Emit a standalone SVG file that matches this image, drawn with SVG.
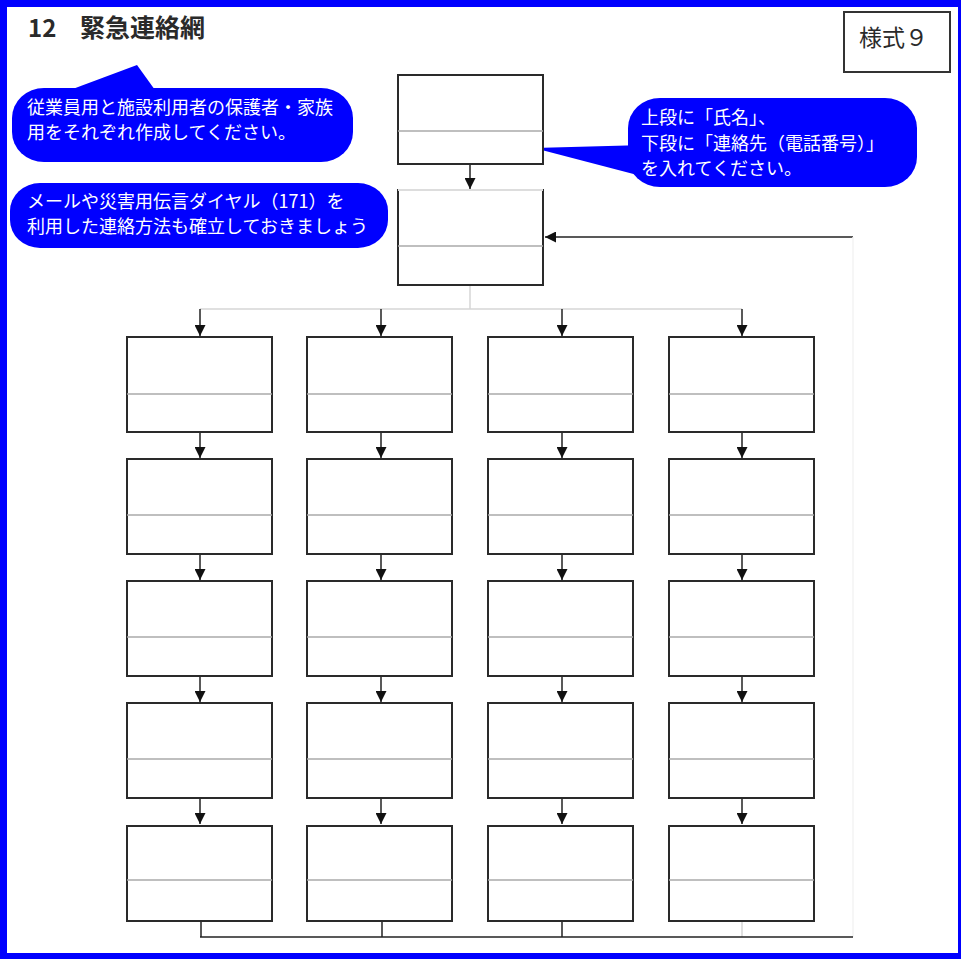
<svg xmlns="http://www.w3.org/2000/svg" width="961" height="959" viewBox="0 0 961 959">
<style>
.box{fill:#fff;stroke:#2a2a2a;stroke-width:2}
.div{stroke:#aaa;stroke-width:1.5}
.ln{stroke:#222;stroke-width:1.5;fill:none}
.lt{stroke:#d6d6d6;stroke-width:1.5;fill:none}
.co{fill:#0000ff}
.ct{fill:#fff;font-family:"Noto Sans CJK JP","Noto Sans CJK SC",sans-serif;font-size:18px}
.tt{fill:#2a2a2a;font-family:"Noto Sans CJK JP","Noto Sans CJK SC",sans-serif}
</style>
<defs>
<marker id="ah" viewBox="0 0 10 10" refX="10" refY="5" markerWidth="11" markerHeight="11" markerUnits="userSpaceOnUse" orient="auto">
<path d="M0,0 L10,5 L0,10 z" fill="#111"/>
</marker>
</defs>
<rect x="0" y="0" width="961" height="959" fill="#0000ff"/>
<rect x="7" y="7" width="951" height="946" fill="#fff"/>

<g id="title">
<text class="tt" y="37" font-size="25" font-weight="700"><tspan x="28" font-size="24">12</tspan><tspan x="80">緊急連絡網</tspan></text>
</g>
<g id="form-label">
<rect x="844" y="12" width="106" height="60" fill="#fff" stroke="#333" stroke-width="2"/>
<text class="tt" x="859" y="46" font-size="23">様式９</text>
</g>

<g id="callout-1">
<path class="co" d="M70,90 L137,65 L155,90 Z"/>
<rect class="co" x="12" y="88" width="341" height="74" rx="32" ry="30"/>
<text class="ct" x="27" y="114">従業員用と施設利用者の保護者・家族</text>
<text class="ct" x="27" y="139">用をそれぞれ作成してください。</text>
</g>
<g id="callout-2">
<rect class="co" x="10" y="183" width="378" height="65" rx="30" ry="28"/>
<text class="ct" x="27" y="208">メールや災害用伝言ダイヤル（171）を</text>
<text class="ct" x="27" y="233">利用した連絡方法も確立しておきましょう</text>
</g>
<g id="callout-3">
<path class="co" d="M534,148 L645,145 L645,177 Z"/>
<rect class="co" x="628" y="98" width="289" height="89" rx="32" ry="30"/>
<text class="ct" x="641" y="124" font-size="17.5">上段に「氏名」、</text>
<text class="ct" x="641" y="150" font-size="17.5">下段に「連絡先（電話番号）」</text>
<text class="ct" x="641" y="175" font-size="17.5">を入れてください。</text>
</g>

<g id="connectors">
<line class="ln" x1="470" y1="165" x2="470" y2="189" marker-end="url(#ah)"/>
<line class="ln" x1="853" y1="237" x2="545" y2="237" marker-end="url(#ah)"/>
<line x1="853" y1="237" x2="853" y2="937" stroke="#f3f3f3" stroke-width="1.5"/>
<line class="lt" x1="470" y1="286" x2="470" y2="309"/>
<line class="lt" x1="200" y1="309" x2="742" y2="309"/>
<line class="ln" x1="200" y1="309" x2="200" y2="336" marker-end="url(#ah)" stroke="#999"/>
<line class="ln" x1="381" y1="309" x2="381" y2="336" marker-end="url(#ah)"/>
<line class="ln" x1="562" y1="309" x2="562" y2="336" marker-end="url(#ah)"/>
<line class="ln" x1="742" y1="309" x2="742" y2="336" marker-end="url(#ah)"/>
<g id="row-arrows">
<line class="ln" x1="200" y1="433" x2="200" y2="458" marker-end="url(#ah)" stroke="#999"/>
<line class="ln" x1="381" y1="433" x2="381" y2="458" marker-end="url(#ah)"/>
<line class="ln" x1="562" y1="433" x2="562" y2="458" marker-end="url(#ah)"/>
<line class="ln" x1="742" y1="433" x2="742" y2="458" marker-end="url(#ah)" stroke="#999"/>
<line class="ln" x1="200" y1="555" x2="200" y2="580" marker-end="url(#ah)"/>
<line class="ln" x1="381" y1="555" x2="381" y2="580" marker-end="url(#ah)"/>
<line class="ln" x1="562" y1="555" x2="562" y2="580" marker-end="url(#ah)"/>
<line class="ln" x1="742" y1="555" x2="742" y2="580" marker-end="url(#ah)"/>
<line class="ln" x1="200" y1="677" x2="200" y2="702" marker-end="url(#ah)" stroke="#999"/>
<line class="ln" x1="381" y1="677" x2="381" y2="702" marker-end="url(#ah)"/>
<line class="ln" x1="562" y1="677" x2="562" y2="702" marker-end="url(#ah)"/>
<line class="ln" x1="742" y1="677" x2="742" y2="702" marker-end="url(#ah)" stroke="#999"/>
<line class="ln" x1="200" y1="799" x2="200" y2="824" marker-end="url(#ah)"/>
<line class="ln" x1="381" y1="799" x2="381" y2="824" marker-end="url(#ah)" stroke="#999"/>
<line class="ln" x1="562" y1="799" x2="562" y2="824" marker-end="url(#ah)"/>
<line class="ln" x1="742" y1="799" x2="742" y2="824" marker-end="url(#ah)" stroke="#999"/>
</g>
<line class="ln" x1="201" y1="921" x2="201" y2="937"/>
<line class="ln" x1="382" y1="921" x2="382" y2="937"/>
<line class="ln" x1="562" y1="921" x2="562" y2="937"/>
<line class="lt" x1="742" y1="921" x2="742" y2="937"/>
<line class="ln" x1="200" y1="937" x2="853" y2="937"/>
</g>

<g id="node-top"><rect class="box" x="398" y="75" width="145" height="89"/><line class="div" x1="398" y1="131" x2="543" y2="131"/></g>
<g id="node-leader"><rect class="box" x="398" y="190" width="145" height="95"/><line x1="398" y1="190" x2="543" y2="190" stroke="#ddd" stroke-width="2"/><line class="div" x1="398" y1="246" x2="543" y2="246"/></g>

<g id="n-1-1"><rect class="box" x="127" y="337" width="145" height="95"/><line class="div" x1="127" y1="394" x2="272" y2="394"/></g>
<g id="n-1-2"><rect class="box" x="307" y="337" width="145" height="95"/><line class="div" x1="307" y1="394" x2="452" y2="394"/></g>
<g id="n-1-3"><rect class="box" x="488" y="337" width="145" height="95"/><line class="div" x1="488" y1="394" x2="633" y2="394"/></g>
<g id="n-1-4"><rect class="box" x="669" y="337" width="145" height="95"/><line class="div" x1="669" y1="394" x2="814" y2="394"/></g>

<g id="n-2-1"><rect class="box" x="127" y="459" width="145" height="95"/><line class="div" x1="127" y1="515" x2="272" y2="515"/></g>
<g id="n-2-2"><rect class="box" x="307" y="459" width="145" height="95"/><line class="div" x1="307" y1="515" x2="452" y2="515"/></g>
<g id="n-2-3"><rect class="box" x="488" y="459" width="145" height="95"/><line class="div" x1="488" y1="515" x2="633" y2="515"/></g>
<g id="n-2-4"><rect class="box" x="669" y="459" width="145" height="95"/><line class="div" x1="669" y1="515" x2="814" y2="515"/></g>

<g id="n-3-1"><rect class="box" x="127" y="581" width="145" height="95"/><line class="div" x1="127" y1="637" x2="272" y2="637"/></g>
<g id="n-3-2"><rect class="box" x="307" y="581" width="145" height="95"/><line class="div" x1="307" y1="637" x2="452" y2="637"/></g>
<g id="n-3-3"><rect class="box" x="488" y="581" width="145" height="95"/><line class="div" x1="488" y1="637" x2="633" y2="637"/></g>
<g id="n-3-4"><rect class="box" x="669" y="581" width="145" height="95"/><line class="div" x1="669" y1="637" x2="814" y2="637"/></g>

<g id="n-4-1"><rect class="box" x="127" y="703" width="145" height="95"/><line class="div" x1="127" y1="759" x2="272" y2="759"/></g>
<g id="n-4-2"><rect class="box" x="307" y="703" width="145" height="95"/><line class="div" x1="307" y1="759" x2="452" y2="759"/></g>
<g id="n-4-3"><rect class="box" x="488" y="703" width="145" height="95"/><line class="div" x1="488" y1="759" x2="633" y2="759"/></g>
<g id="n-4-4"><rect class="box" x="669" y="703" width="145" height="95"/><line class="div" x1="669" y1="759" x2="814" y2="759"/></g>

<g id="n-5-1"><rect class="box" x="127" y="826" width="145" height="95"/><line class="div" x1="127" y1="880" x2="272" y2="880"/></g>
<g id="n-5-2"><rect class="box" x="307" y="826" width="145" height="95"/><line class="div" x1="307" y1="880" x2="452" y2="880"/></g>
<g id="n-5-3"><rect class="box" x="488" y="826" width="145" height="95"/><line class="div" x1="488" y1="880" x2="633" y2="880"/></g>
<g id="n-5-4"><rect class="box" x="669" y="826" width="145" height="95"/><line class="div" x1="669" y1="880" x2="814" y2="880"/></g>
</svg>
